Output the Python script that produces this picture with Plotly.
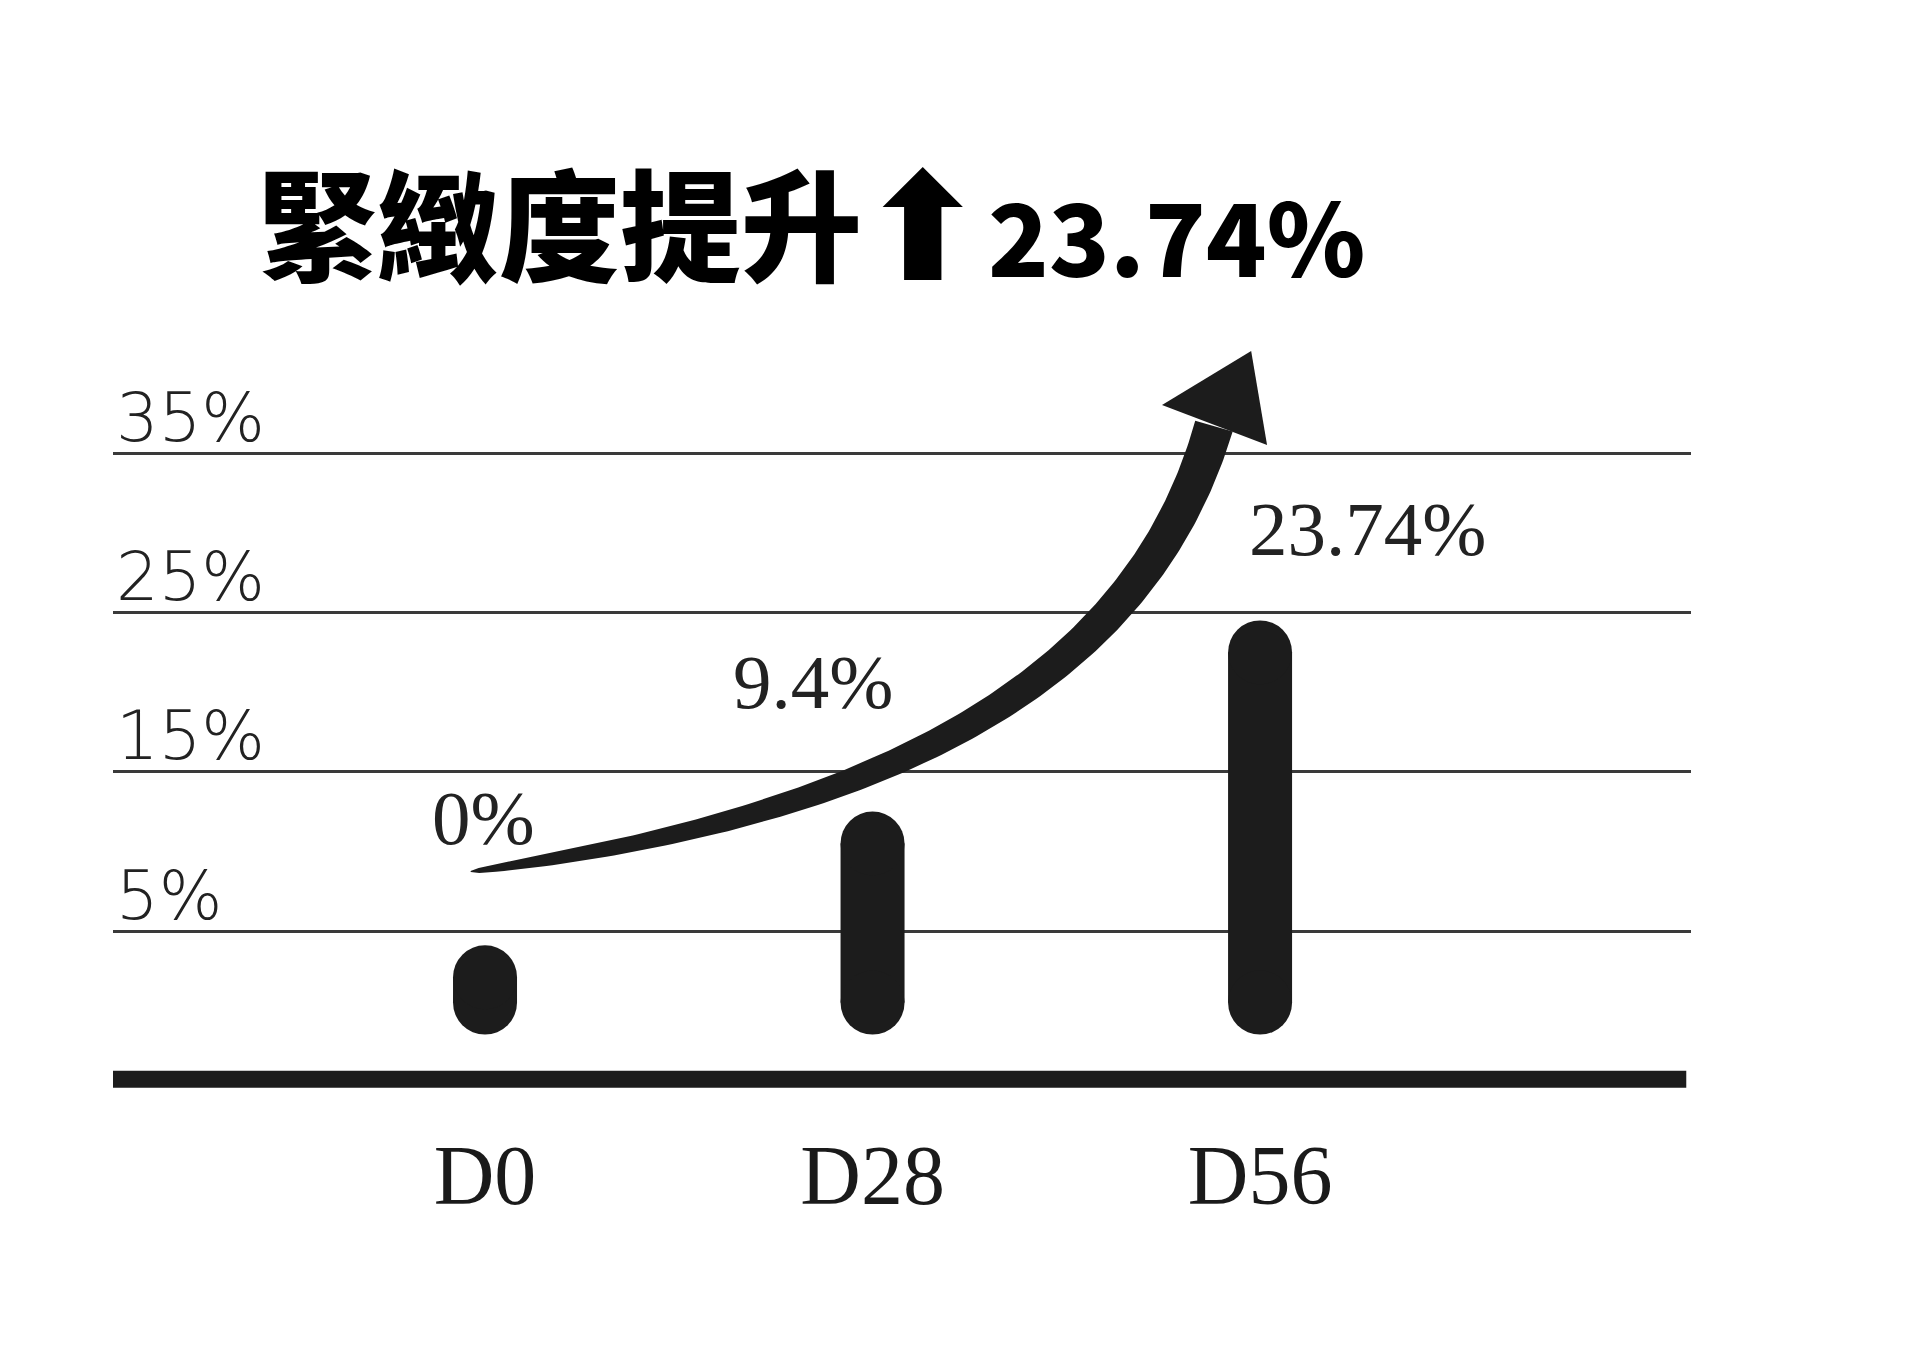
import numpy as np
import plotly.graph_objects as go

# dati
CATEGORIES = ["D0", "D28", "D56"]
VALUE_TEXT = ["0%", "9.4%", "23.74%"]
BAR_TOP = [4.1, 12.5, 24.5]        # estremo superiore delle barre (in %)
BAR_BOTTOM = [-1.5, -1.5, -1.5]    # estremo inferiore delle barre (in %)
TICK_VALS = [5, 15, 25, 35]
TICK_TEXT = ["5%", "15%", "25%", "35%"]
BASELINE_Y = -4.3
TITLE_TEXT = "緊緻度提升"
TITLE_VALUE = "23.74%"

# freccia curva (bezier cubica, unita' dei dati)
ARROW_START = (-0.037, 8.73)
ARROW_CTRL1 = (1.10, 12.5)
ARROW_CTRL2 = (1.70, 21.5)
ARROW_END = (1.881, 36.70)
ARROW_HEAD = [(1.747, 38.02), (1.977, 41.41), (2.018, 35.51)]

# impaginazione
W, H = 1920, 1369
M_L, M_R, M_T, M_B = 105, 237, 322, 258
X_RANGE = [-0.96, 3.112]
Y_RANGE = [-6.80, 42.73]
LABEL_X = [-0.005, 0.846, 2.276]
LABEL_Y = [12.09, 20.63, 30.24]
BAR_PX = 64
INK = "#1c1c1c"

kx = (W - M_L - M_R) / (X_RANGE[1] - X_RANGE[0])
ky = (H - M_T - M_B) / (Y_RANGE[1] - Y_RANGE[0])

# corpo della freccia: spessore crescente lungo la curva
t = np.linspace(0, 1, 160)[:, None]
P = [np.array([p[0] * kx, p[1] * ky]) for p in (ARROW_START, ARROW_CTRL1, ARROW_CTRL2, ARROW_END)]
curve = (1 - t) ** 3 * P[0] + 3 * (1 - t) ** 2 * t * P[1] + 3 * (1 - t) * t ** 2 * P[2] + t ** 3 * P[3]
deriv = 3 * (1 - t) ** 2 * (P[1] - P[0]) + 6 * (1 - t) * t * (P[2] - P[1]) + 3 * t ** 2 * (P[3] - P[2])
normal = np.column_stack([-deriv[:, 1], deriv[:, 0]])
normal = normal / np.linalg.norm(normal, axis=1)[:, None]
half_w = (0.5 + 19.0 * t[:, 0] ** 0.45)[:, None]
left = curve + half_w * normal
right = curve - half_w * normal
body = np.vstack([left, right[::-1], left[:1]])

fig = go.Figure()

# barre arrotondate: linea spessa con due cerchi alle estremita'
r = (BAR_PX / 2) / ky
for i, (top, bot) in enumerate(zip(BAR_TOP, BAR_BOTTOM)):
    fig.add_trace(go.Scatter(
        x=[i, i], y=[bot + r, top - r], mode="lines+markers",
        line=dict(color=INK, width=BAR_PX),
        marker=dict(color=INK, size=BAR_PX, symbol="circle", line=dict(width=0)),
        hoverinfo="skip",
    ))

fig.add_trace(go.Scatter(
    x=body[:, 0] / kx, y=body[:, 1] / ky, mode="lines", fill="toself",
    fillcolor=INK, line=dict(width=0, color=INK), hoverinfo="skip",
))
head = ARROW_HEAD + ARROW_HEAD[:1]
fig.add_trace(go.Scatter(
    x=[p[0] for p in head], y=[p[1] for p in head], mode="lines", fill="toself",
    fillcolor=INK, line=dict(width=0, color=INK), hoverinfo="skip",
))

for lx, ly, txt in zip(LABEL_X, LABEL_Y, VALUE_TEXT):
    fig.add_annotation(
        x=lx, y=ly, text=txt, showarrow=False, xanchor="center", yanchor="middle",
        font=dict(family="Liberation Serif", size=77, color="#222222"),
    )

# titolo
fig.add_annotation(
    x=0.0899, y=1.140, xref="paper", yref="paper", text=TITLE_TEXT, showarrow=False,
    xanchor="left", yanchor="middle",
    font=dict(family="Noto Sans CJK TC", size=121, color="#000000", weight=900),
)
fig.add_annotation(
    x=0.5136, y=1.1296, xref="paper", yref="paper", text="⬆", showarrow=False,
    xanchor="center", yanchor="middle",
    font=dict(family="DejaVu Sans", size=150, color="#000000", weight="bold"),
)
fig.add_annotation(
    x=0.553, y=1.122, xref="paper", yref="paper", text=TITLE_VALUE, showarrow=False,
    xanchor="left", yanchor="middle",
    font=dict(family="Noto Sans CJK TC", size=100, color="#000000", weight=900),
)

fig.add_shape(
    type="line", xref="paper", yref="y", x0=0, x1=0.997, y0=BASELINE_Y, y1=BASELINE_Y,
    line=dict(color=INK, width=17),
)

fig.update_layout(
    width=W, height=H,
    margin=dict(l=M_L, r=M_R, t=M_T, b=M_B),
    paper_bgcolor="white", plot_bgcolor="white",
    showlegend=False,
    xaxis=dict(
        range=X_RANGE, tickmode="array", tickvals=list(range(len(CATEGORIES))),
        ticktext=CATEGORIES, showgrid=False, zeroline=False, showline=False, ticks="",
        tickfont=dict(family="Liberation Serif", size=84, color="#1a1a1a"),
    ),
    yaxis=dict(
        range=Y_RANGE, tickmode="array", tickvals=TICK_VALS, ticktext=TICK_TEXT,
        showgrid=True, gridcolor="#3a3a3a", gridwidth=2.5, zeroline=False, showline=False,
        ticks="", ticklabelposition="inside top", ticklabelshift=11,
        tickfont=dict(family="DejaVu Sans", size=67, color="#222222", weight=200),
    ),
)

fig.write_html("out.html")
